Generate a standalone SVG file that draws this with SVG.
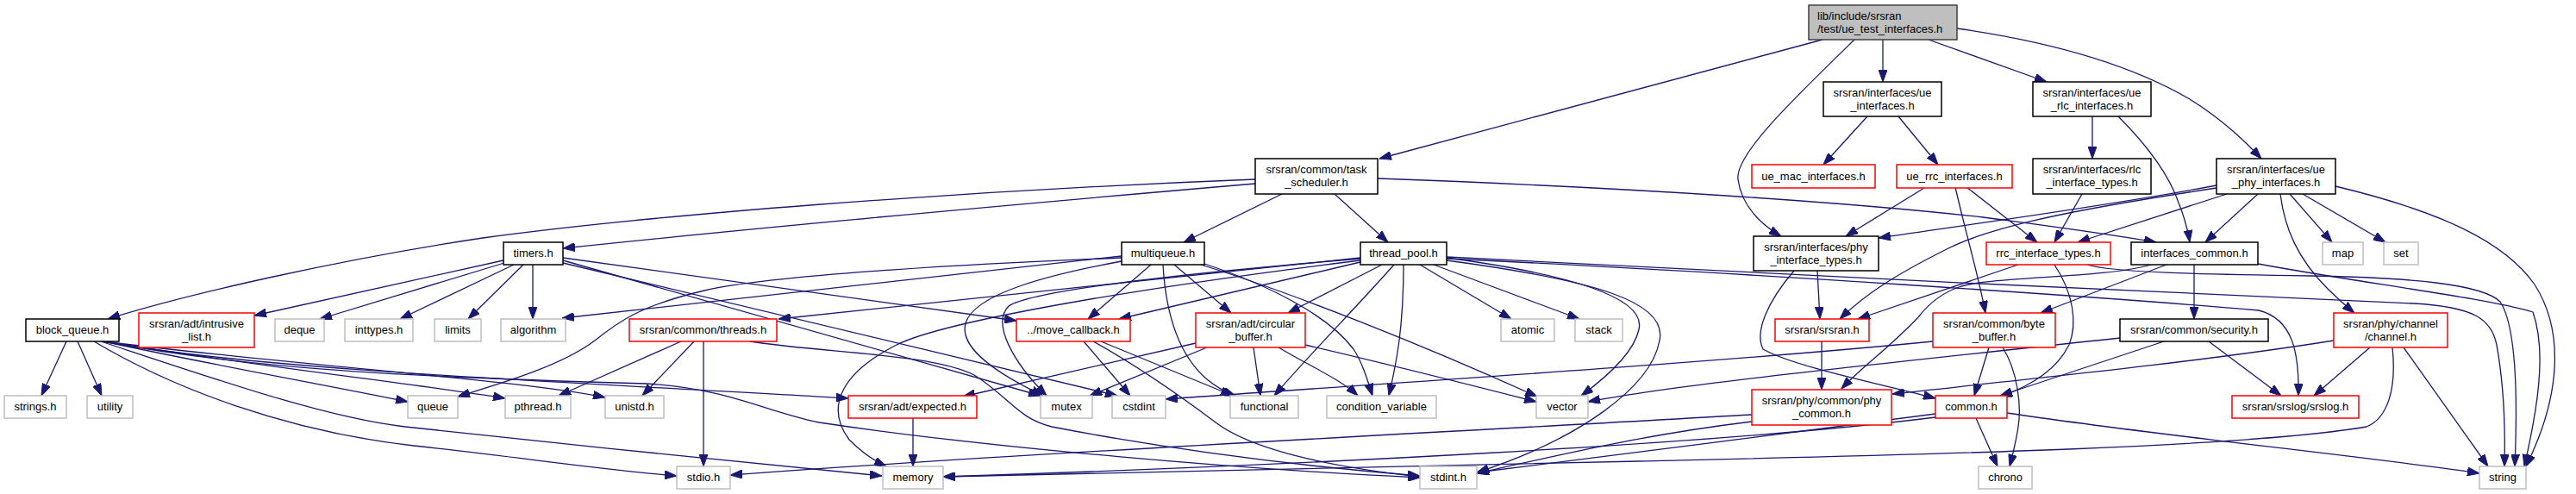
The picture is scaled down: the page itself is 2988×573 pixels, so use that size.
<svg xmlns="http://www.w3.org/2000/svg" width="2988" height="573" viewBox="0 0 2988 573">
<style>
rect{stroke-width:1.5}
.n{fill:#fff;stroke:#000}
.r{fill:#fff;stroke:#ff0000}
.g{fill:#fff;stroke:#bfbfbf}
.rt{fill:#bfbfbf;stroke:#404040}
text{font-family:"Liberation Sans",Arial,sans-serif;font-size:13px;fill:#000;text-anchor:middle}
#edges path{fill:none;stroke:#191970;stroke-width:1.3;marker-end:url(#a)}
</style>
<defs>
<marker id="a" markerWidth="14" markerHeight="10" refX="14" refY="5" orient="auto" markerUnits="userSpaceOnUse" viewBox="0 0 14 10"><path d="M0,0 L14,5 L0,10 z" fill="#191970" stroke="#191970" stroke-width="1"/></marker>
</defs>
<rect width="2988" height="573" fill="#fff"/>
<g id="edges">
<path d="M2114,46 L1600,184"/>
<path d="M2151,46 C2080,115 2012,180 2016,208 C2020,240 2045,262 2066,274"/>
<path d="M2184,46 L2184,95"/>
<path d="M2237,46 L2374,95"/>
<path d="M2270,33 C2390,50 2480,80 2540,115 C2580,140 2605,165 2623,184"/>
<path d="M2166,135 L2115,191"/>
<path d="M2202,135 L2248,191"/>
<path d="M2427,135 L2427,184"/>
<path d="M2457,135 C2490,168 2515,200 2527,235 C2535,255 2538,268 2540,281"/>
<path d="M1456,208 C1100,222 750,250 560,276 C400,300 220,340 125,370"/>
<path d="M1456,213 C1200,235 900,262 653,288"/>
<path d="M1487,225 L1373,281"/>
<path d="M1548,225 L1610,281"/>
<path d="M1598,207 C1900,218 2150,235 2300,252 C2400,265 2460,274 2501,281"/>
<path d="M2232,218 L2141,274"/>
<path d="M2281,217 L2363,281"/>
<path d="M2268,217 C2280,270 2295,320 2303,363"/>
<path d="M2415,225 L2383,281"/>
<path d="M2583,225 L2410,281"/>
<path d="M2619,225 L2558,281"/>
<path d="M2656,225 L2705,281"/>
<path d="M2671,225 L2767,281"/>
<path d="M2709,216 C2830,245 2905,280 2940,330 C2975,385 2970,460 2930,541"/>
<path d="M2645,225 C2650,265 2665,300 2700,335 C2715,350 2725,358 2731,363"/>
<path d="M2571,215 C2450,238 2300,258 2179,276"/>
<path d="M2571,218 C2440,238 2320,258 2260,288 C2200,318 2165,340 2134,370"/>
<path d="M2341,307 L2155,370"/>
<path d="M2383,307 C2405,340 2410,375 2400,400 C2385,430 2355,448 2320,460"/>
<path d="M2421,307 C2450,316 2550,318 2680,320 C2800,322 2880,330 2900,350 C2920,380 2920,470 2917,541"/>
<path d="M2513,307 L2367,363"/>
<path d="M2545,307 L2545,370"/>
<path d="M2619,306 C2750,330 2880,345 2938,362 C2955,410 2942,480 2928,541"/>
<path d="M2495,307 C2440,323 2320,320 2275,332 C2250,340 2235,355 2225,368 C2190,405 2160,425 2136,451"/>
<path d="M2307,403 L2290,459"/>
<path d="M2323,403 C2340,430 2345,470 2341,495 C2338,515 2334,530 2331,541"/>
<path d="M2242,396 C2000,420 1600,445 1352,463"/>
<path d="M2562,396 L2646,459"/>
<path d="M2510,396 L2320,459"/>
<path d="M2459,392 C2200,420 1950,445 1842,466"/>
<path d="M2749,403 L2684,459"/>
<path d="M2788,403 L2886,541"/>
<path d="M2707,395 C2550,420 2350,440 2195,457"/>
<path d="M2775,403 C2780,450 2770,485 2745,495 C2600,520 2200,528 1900,535 C1600,542 1300,548 1094,553"/>
<path d="M2292,485 L2317,541"/>
<path d="M2328,479 C2500,505 2750,530 2876,549"/>
<path d="M2245,480 C2100,500 1850,530 1713,548"/>
<path d="M2245,484 C2000,515 1500,540 1094,553"/>
<path d="M2032,481 C1700,500 1200,525 847,551"/>
<path d="M2032,489 C1900,505 1800,530 1713,549"/>
<path d="M2108,314 L2111,370"/>
<path d="M2081,314 C2050,350 2035,385 2045,405 C2080,425 2180,445 2245,462"/>
<path d="M2113,396 L2113,452"/>
<path d="M77,396 L48,459"/>
<path d="M90,396 L118,459"/>
<path d="M120,396 C230,420 370,445 473,466"/>
<path d="M120,396 C300,425 480,445 586,462"/>
<path d="M120,396 C350,425 600,440 702,461"/>
<path d="M120,396 C300,430 700,445 984,462"/>
<path d="M120,396 C300,430 500,438 750,445 C850,452 880,475 950,490 C1150,520 1450,545 1647,554"/>
<path d="M117,396 C250,440 380,485 470,495 C650,515 850,535 1023,552"/>
<path d="M109,396 C200,450 330,500 480,517 C600,530 700,545 785,552"/>
<path d="M584,302 L295,366"/>
<path d="M585,305 L371,370"/>
<path d="M596,307 L464,370"/>
<path d="M607,307 L543,370"/>
<path d="M618,307 L618,370"/>
<path d="M653,299 L1179,372"/>
<path d="M653,302 L1207,459"/>
<path d="M653,305 L1296,459"/>
<path d="M1301,297 L652,369"/>
<path d="M1301,299 C1150,305 900,318 817,337 C740,355 715,375 690,395 C650,425 580,445 531,460"/>
<path d="M1301,303 C1220,318 1130,340 1120,375 C1112,405 1160,435 1210,459"/>
<path d="M1335,307 L1262,370"/>
<path d="M1349,307 C1352,360 1365,410 1400,440 C1412,450 1422,455 1433,459"/>
<path d="M1362,307 L1428,363"/>
<path d="M1393,307 C1500,340 1650,400 1783,460"/>
<path d="M1397,306 C1470,330 1540,365 1570,405 C1580,420 1586,440 1592,459"/>
<path d="M1578,299 L903,370"/>
<path d="M1578,300 C1400,315 1200,335 1170,355 C1150,375 1175,420 1214,459"/>
<path d="M1578,302 C1350,330 1100,370 1040,400 C980,430 955,470 985,510 C1000,525 1015,535 1028,541"/>
<path d="M1578,304 L1298,370"/>
<path d="M1603,307 L1494,363"/>
<path d="M1617,307 C1570,360 1520,410 1478,459"/>
<path d="M1628,307 C1628,380 1620,420 1611,459"/>
<path d="M1647,307 L1753,370"/>
<path d="M1663,307 L1832,370"/>
<path d="M1678,299 C1820,318 1910,345 1901,382 C1895,410 1860,440 1834,459"/>
<path d="M1678,302 C1850,325 1935,350 1925,395 C1915,450 1830,510 1713,548"/>
<path d="M1678,298 C1950,312 2500,340 2800,352 C2870,356 2890,370 2896,400 C2905,450 2906,500 2905,541"/>
<path d="M1678,300 C2000,315 2450,345 2620,360 C2660,370 2667,410 2666,459"/>
<path d="M790,396 L648,459"/>
<path d="M805,396 L745,459"/>
<path d="M816,396 L816,541"/>
<path d="M870,396 C960,410 1080,410 1130,435 C1170,460 1180,485 1220,495 C1350,520 1500,540 1647,552"/>
<path d="M1257,396 L1311,459"/>
<path d="M1277,396 L1430,459"/>
<path d="M1268,396 C1320,425 1370,460 1410,490 C1450,520 1530,540 1647,553"/>
<path d="M1387,398 L1117,460"/>
<path d="M1400,403 L1264,459"/>
<path d="M1454,403 L1462,459"/>
<path d="M1514,400 C1600,420 1700,445 1782,466"/>
<path d="M1483,403 C1520,425 1555,440 1575,459"/>
<path d="M1059,485 L1059,541"/>
</g>
<g id="root"><rect class="rt" x="2098" y="6" width="172" height="40"/><text x="2108" y="22.5" style="text-anchor:start">lib/include/srsran</text><text x="2108" y="37.5" style="text-anchor:start">/test/ue_test_interfaces.h</text></g>
<g id="ue_interfaces"><rect class="n" x="2115" y="95" width="137" height="40"/><text x="2183.5" y="111.5">srsran/interfaces/ue</text><text x="2183.5" y="126.5">_interfaces.h</text></g>
<g id="ue_rlc_interfaces"><rect class="n" x="2358" y="95" width="137" height="40"/><text x="2426.5" y="111.5">srsran/interfaces/ue</text><text x="2426.5" y="126.5">_rlc_interfaces.h</text></g>
<g id="task_scheduler"><rect class="n" x="1456" y="184" width="142" height="41"/><text x="1527" y="201">srsran/common/task</text><text x="1527" y="216">_scheduler.h</text></g>
<g id="ue_mac_interfaces"><rect class="r" x="2032" y="191" width="143" height="27"/><text x="2103.5" y="209">ue_mac_interfaces.h</text></g>
<g id="ue_rrc_interfaces"><rect class="r" x="2200" y="191" width="134" height="27"/><text x="2267" y="209">ue_rrc_interfaces.h</text></g>
<g id="rlc_interface_types"><rect class="n" x="2358" y="184" width="137" height="41"/><text x="2426.5" y="201">srsran/interfaces/rlc</text><text x="2426.5" y="216">_interface_types.h</text></g>
<g id="ue_phy_interfaces"><rect class="n" x="2571" y="184" width="138" height="41"/><text x="2640" y="201">srsran/interfaces/ue</text><text x="2640" y="216">_phy_interfaces.h</text></g>
<g id="phy_interface_types"><rect class="n" x="2034" y="274" width="145" height="40"/><text x="2106.5" y="290.5">srsran/interfaces/phy</text><text x="2106.5" y="305.5">_interface_types.h</text></g>
<g id="timers"><rect class="n" x="584" y="281" width="69" height="26"/><text x="618.5" y="298">timers.h</text></g>
<g id="multiqueue"><rect class="n" x="1301" y="281" width="96" height="26"/><text x="1349" y="298">multiqueue.h</text></g>
<g id="thread_pool"><rect class="n" x="1578" y="281" width="100" height="26"/><text x="1628" y="298">thread_pool.h</text></g>
<g id="rrc_interface_types"><rect class="r" x="2304" y="281" width="144" height="26"/><text x="2376" y="298">rrc_interface_types.h</text></g>
<g id="interfaces_common"><rect class="n" x="2472" y="281" width="147" height="26"/><text x="2545.5" y="298">interfaces_common.h</text></g>
<g id="map"><rect class="g" x="2694" y="281" width="47" height="26"/><text x="2717.5" y="298">map</text></g>
<g id="set"><rect class="g" x="2765" y="281" width="40" height="26"/><text x="2785" y="298">set</text></g>
<g id="block_queue"><rect class="n" x="30" y="370" width="108" height="26"/><text x="84" y="387">block_queue.h</text></g>
<g id="intrusive_list"><rect class="r" x="161" y="363" width="134" height="40"/><text x="228" y="379.5">srsran/adt/intrusive</text><text x="228" y="394.5">_list.h</text></g>
<g id="deque"><rect class="g" x="319" y="370" width="57" height="26"/><text x="347.5" y="387">deque</text></g>
<g id="inttypes"><rect class="g" x="400" y="370" width="79" height="26"/><text x="439.5" y="387">inttypes.h</text></g>
<g id="limits"><rect class="g" x="504" y="370" width="54" height="26"/><text x="531" y="387">limits</text></g>
<g id="algorithm"><rect class="g" x="581" y="370" width="75" height="26"/><text x="618.5" y="387">algorithm</text></g>
<g id="threads"><rect class="r" x="730" y="370" width="171" height="26"/><text x="815.5" y="387">srsran/common/threads.h</text></g>
<g id="move_callback"><rect class="r" x="1179" y="370" width="132" height="26"/><text x="1245" y="387">../move_callback.h</text></g>
<g id="circular_buffer"><rect class="r" x="1387" y="363" width="127" height="40"/><text x="1450.5" y="379.5">srsran/adt/circular</text><text x="1450.5" y="394.5">_buffer.h</text></g>
<g id="atomic"><rect class="g" x="1741" y="370" width="62" height="26"/><text x="1772" y="387">atomic</text></g>
<g id="stack"><rect class="g" x="1827" y="370" width="55" height="26"/><text x="1854.5" y="387">stack</text></g>
<g id="srsran"><rect class="r" x="2059" y="370" width="109" height="26"/><text x="2113.5" y="387">srsran/srsran.h</text></g>
<g id="byte_buffer"><rect class="r" x="2242" y="363" width="142" height="40"/><text x="2313" y="379.5">srsran/common/byte</text><text x="2313" y="394.5">_buffer.h</text></g>
<g id="security"><rect class="n" x="2459" y="370" width="172" height="26"/><text x="2545" y="387">srsran/common/security.h</text></g>
<g id="channel"><rect class="r" x="2707" y="363" width="132" height="40"/><text x="2773" y="379.5">srsran/phy/channel</text><text x="2773" y="394.5">/channel.h</text></g>
<g id="strings"><rect class="g" x="5" y="459" width="72" height="26"/><text x="41" y="476">strings.h</text></g>
<g id="utility"><rect class="g" x="101" y="459" width="53" height="26"/><text x="127.5" y="476">utility</text></g>
<g id="queue"><rect class="g" x="473" y="459" width="58" height="26"/><text x="502" y="476">queue</text></g>
<g id="pthread"><rect class="g" x="586" y="459" width="76" height="26"/><text x="624" y="476">pthread.h</text></g>
<g id="unistd"><rect class="g" x="702" y="459" width="68" height="26"/><text x="736" y="476">unistd.h</text></g>
<g id="expected"><rect class="r" x="984" y="459" width="149" height="26"/><text x="1058.5" y="476">srsran/adt/expected.h</text></g>
<g id="mutex"><rect class="g" x="1207" y="459" width="60" height="26"/><text x="1237" y="476">mutex</text></g>
<g id="cstdint"><rect class="g" x="1290" y="459" width="62" height="26"/><text x="1321" y="476">cstdint</text></g>
<g id="functional"><rect class="g" x="1427" y="459" width="79" height="26"/><text x="1466.5" y="476">functional</text></g>
<g id="condition_variable"><rect class="g" x="1539" y="459" width="127" height="26"/><text x="1602.5" y="476">condition_variable</text></g>
<g id="vector"><rect class="g" x="1782" y="459" width="60" height="26"/><text x="1812" y="476">vector</text></g>
<g id="phy_common"><rect class="r" x="2032" y="452" width="162" height="41"/><text x="2113" y="469">srsran/phy/common/phy</text><text x="2113" y="484">_common.h</text></g>
<g id="common"><rect class="r" x="2245" y="459" width="83" height="26"/><text x="2286.5" y="476">common.h</text></g>
<g id="srslog"><rect class="r" x="2589" y="459" width="147" height="26"/><text x="2662.5" y="476">srsran/srslog/srslog.h</text></g>
<g id="stdio"><rect class="g" x="785" y="541" width="62" height="26"/><text x="816" y="558">stdio.h</text></g>
<g id="memory"><rect class="g" x="1024" y="541" width="70" height="26"/><text x="1059" y="558">memory</text></g>
<g id="stdint"><rect class="g" x="1647" y="541" width="66" height="26"/><text x="1680" y="558">stdint.h</text></g>
<g id="chrono"><rect class="g" x="2295" y="541" width="62" height="26"/><text x="2326" y="558">chrono</text></g>
<g id="string"><rect class="g" x="2876" y="541" width="54" height="26"/><text x="2903" y="558">string</text></g>
</svg>
